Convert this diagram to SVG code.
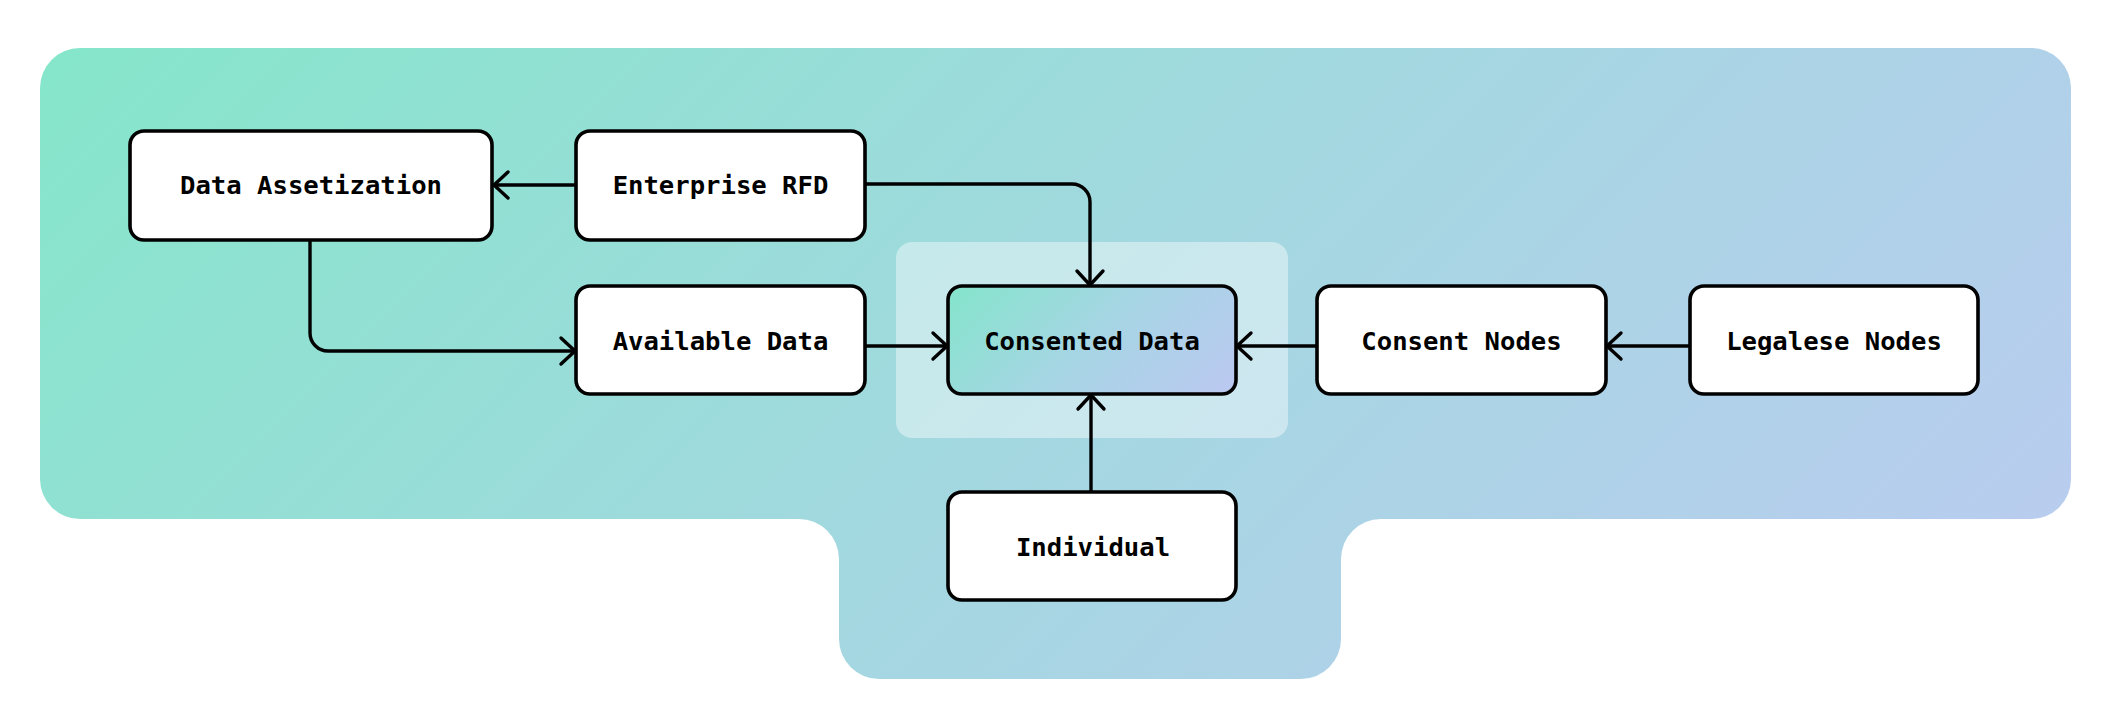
<svg xmlns="http://www.w3.org/2000/svg" width="2112" height="728" viewBox="0 0 2112 728">
<style>
.node rect{fill:#fff;stroke:#000;stroke-width:3.6}
.node text{font-family:"DejaVu Sans Mono","Liberation Mono",monospace;font-weight:bold;font-size:25.6px;text-anchor:middle;fill:#000}
.conn path{fill:none;stroke:#000;stroke-width:3.4;stroke-linejoin:round}
</style>
<defs>
<linearGradient id="bg" gradientUnits="userSpaceOnUse" x1="40" y1="48" x2="1371" y2="1379">
<stop offset="0" stop-color="#85E6CA"/>
<stop offset="0.5" stop-color="#A3D8E0"/>
<stop offset="1" stop-color="#BCCBF1"/>
</linearGradient>
<linearGradient id="cg" gradientUnits="userSpaceOnUse" x1="948" y1="286" x2="1146" y2="484">
<stop offset="0" stop-color="#84E5CB"/>
<stop offset="0.5" stop-color="#A6D5E4"/>
<stop offset="1" stop-color="#BCC8F1"/>
</linearGradient>
<marker id="arr" viewBox="-18 -16 22 32" markerUnits="userSpaceOnUse" markerWidth="22" markerHeight="32" refX="0" refY="0" orient="auto">
<path d="M-14,-13 L0,0 L-14,13" fill="none" stroke="#000" stroke-width="3.4" stroke-linecap="round" stroke-linejoin="round"/>
</marker>
</defs>
<rect width="2112" height="728" fill="#fff"/>
<path id="background" d="M80,48 H2031 A40,40 0 0 1 2071,88 V479 A40,40 0 0 1 2031,519 H1381 A40,40 0 0 0 1341,559 V639 A40,40 0 0 1 1301,679 H879 A40,40 0 0 1 839,639 V559 A40,40 0 0 0 799,519 H80 A40,40 0 0 1 40,479 V88 A40,40 0 0 1 80,48 Z" fill="url(#bg)"/>
<rect id="highlight" x="896" y="242" width="392" height="196" rx="16" fill="#fff" fill-opacity="0.42"/>
<g class="conn" id="connectors">
<path d="M576,185 H494" marker-end="url(#arr)"/>
<path d="M310,240 V333 A18,18 0 0 0 328,351 H575" marker-end="url(#arr)"/>
<path d="M865,184 H1072 A18,18 0 0 1 1090,202 V285" marker-end="url(#arr)"/>
<path d="M865,346 H947" marker-end="url(#arr)"/>
<path d="M1317,346 H1237" marker-end="url(#arr)"/>
<path d="M1690,346 H1607" marker-end="url(#arr)"/>
<path d="M1091,491 V395" marker-end="url(#arr)"/>
</g>
<g class="node" id="data-assetization"><rect x="130" y="131" width="362" height="109" rx="14"/><text x="311" y="194">Data Assetization</text></g>
<g class="node" id="enterprise-rfd"><rect x="576" y="131" width="289" height="109" rx="14"/><text x="720.5" y="194">Enterprise RFD</text></g>
<g class="node" id="available-data"><rect x="576" y="286" width="289" height="108" rx="14"/><text x="720.5" y="349.5">Available Data</text></g>
<g class="node" id="consented-data"><rect x="948" y="286" width="288" height="108" rx="14" style="fill:url(#cg)"/><text x="1092" y="349.5">Consented Data</text></g>
<g class="node" id="consent-nodes"><rect x="1317" y="286" width="289" height="108" rx="14"/><text x="1461.5" y="349.5">Consent Nodes</text></g>
<g class="node" id="legalese-nodes"><rect x="1690" y="286" width="288" height="108" rx="14"/><text x="1834" y="349.5">Legalese Nodes</text></g>
<g class="node" id="individual"><rect x="948" y="492" width="288" height="108" rx="14"/><text x="1093" y="555.5">Individual</text></g>
</svg>
